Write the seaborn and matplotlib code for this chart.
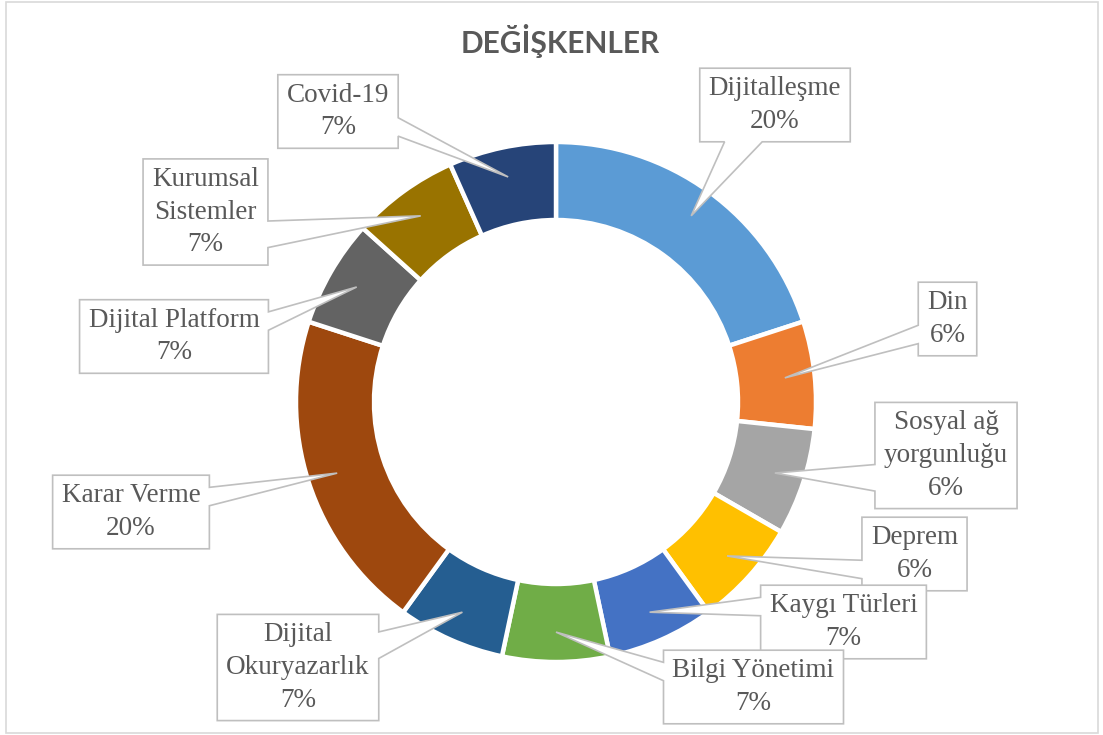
import matplotlib
matplotlib.use("Agg")
import matplotlib.pyplot as plt
from matplotlib.patches import Polygon, Rectangle
import numpy as np
import seaborn as sns

categories = ["Dijitalleşme", "Din", "Sosyal ağ\nyorgunluğu", "Deprem", "Kaygı Türleri",
              "Bilgi Yönetimi", "Dijital\nOkuryazarlık", "Karar Verme", "Dijital Platform",
              "Kurumsal\nSistemler", "Covid-19"]
shares = [20, 6.67, 6.67, 6.67, 6.67, 6.67, 6.67, 20, 6.67, 6.67, 6.67]
pct_labels = ["20%", "6%", "6%", "6%", "7%", "7%", "7%", "20%", "7%", "7%", "7%"]
colors = ["#5B9BD5", "#ED7D31", "#A5A5A5", "#FFC000", "#4472C4", "#70AD47",
          "#255E91", "#9E480E", "#636363", "#997300", "#264478"]

# callout layout: box centres in pixels (y from top) and the side the pointer leaves from
box_centers = [(775, 105), (947.5, 319), (946, 455.5), (914.5, 554), (843.5, 622),
               (753.5, 687), (298, 667.5), (131, 512), (174, 336.5), (205.5, 212), (338, 111.5)]
box_sides = ["bottom", "left", "left", "left", "left", "left",
             "right", "right", "right", "right", "right"]

W, H = 1103, 735
sns.set_style("white")
plt.rcParams["font.family"] = ["Liberation Serif", "DejaVu Sans"]

fig = plt.figure(figsize=(W / 100, H / 100), dpi=100)
ax = fig.add_axes([0, 0, 1, 1])

cx, cy, R = 556, H - 402, 260
wedges, _ = ax.pie(shares, colors=sns.color_palette(colors), startangle=90, counterclock=False,
                   radius=R, center=(cx, cy),
                   wedgeprops=dict(width=78, edgecolor="white", linewidth=3.2))
ax.set_xlim(0, W)
ax.set_ylim(0, H)
ax.set_aspect("equal")
ax.axis("off")

# chart border
ax.add_patch(Rectangle((6, 2), 1092, 731, fill=False, ec="#d9d9d9", lw=1.2, zorder=1))

ax.text(560, H - 53, "DEĞİŞKENLER", ha="center", va="baseline", fontsize=21.5,
        fontweight="bold", family=["Lato", "DejaVu Sans"], color="#595959")

renderer = fig.canvas.get_renderer()
pad_x, pad_y = 9, 8
for wdg, cat, pct, (bx, by), side in zip(wedges, categories, pct_labels, box_centers, box_sides):
    mid = np.deg2rad((wdg.theta1 + wdg.theta2) / 2)
    px = cx + 0.885 * R * np.cos(mid)
    py = cy + 0.885 * R * np.sin(mid)
    by = H - by
    t = ax.text(bx, by, f"{cat}\n{pct}", ha="center", va="center", fontsize=19.5,
                color="#595959", linespacing=1.4, zorder=6)
    ext = t.get_window_extent(renderer).transformed(ax.transData.inverted())
    x0, x1 = ext.x0 - pad_x, ext.x1 + pad_x
    y0, y1 = ext.y0 - pad_y, ext.y1 + pad_y
    if side == "bottom":
        frac = 0.29 if px < bx else 0.71
        c = x0 + frac * (x1 - x0)
        hw = 0.125 * (x1 - x0)
        verts = [(x0, y0), (c - hw, y0), (px, py), (c + hw, y0), (x1, y0), (x1, y1), (x0, y1)]
    else:
        frac = 0.71 if py < by - 1 else 0.29
        c = y1 - frac * (y1 - y0)
        hw = 0.125 * (y1 - y0)
        if side == "right":
            verts = [(x0, y0), (x1, y0), (x1, c - hw), (px, py), (x1, c + hw), (x1, y1), (x0, y1)]
        else:
            verts = [(x0, y0), (x1, y0), (x1, y1), (x0, y1), (x0, c + hw), (px, py), (x0, c - hw)]
    ax.add_patch(Polygon(verts, closed=True, fc="white", ec="#bfbfbf", lw=1.2, zorder=5))

fig.savefig("out.png", dpi=100)
